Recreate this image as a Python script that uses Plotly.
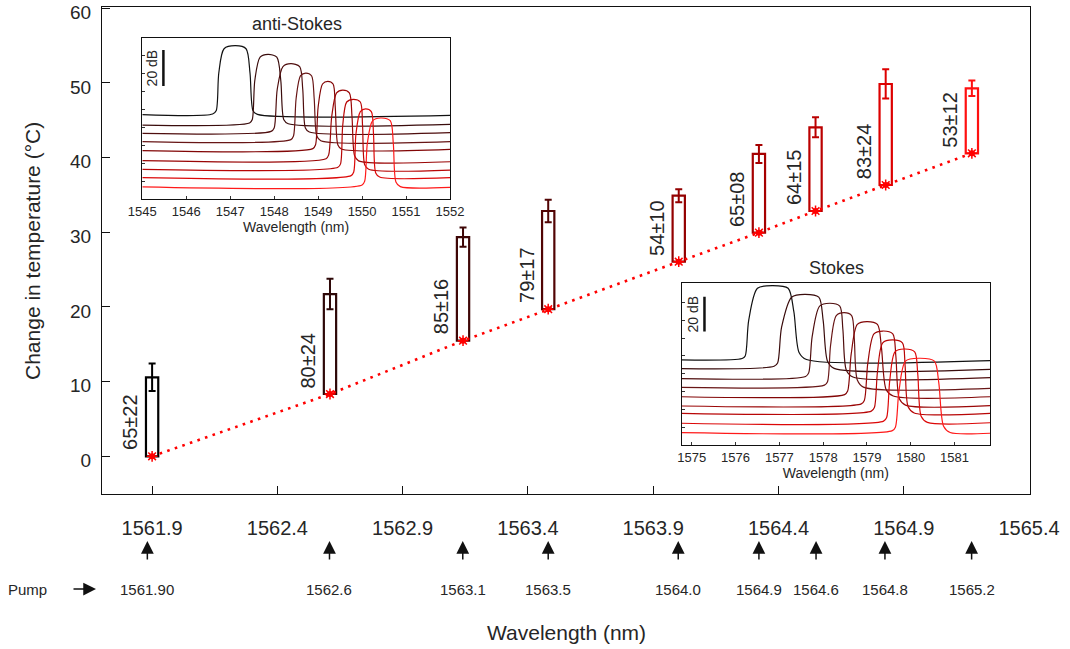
import plotly.graph_objects as go

# ---------------- data ----------------
bar_x = [1561.900, 1562.610, 1563.141, 1563.481, 1564.002, 1564.322, 1564.548, 1564.828, 1565.172]
bar_bottom = [0.0, 8.34, 15.48, 19.70, 26.06, 29.95, 32.85, 36.33, 40.58]
bar_top = [10.58, 21.73, 29.35, 32.85, 34.90, 40.49, 44.06, 49.86, 49.28]
bar_err = [1.85, 2.05, 1.30, 1.50, 0.87, 1.20, 1.34, 1.96, 1.03]
bar_labels = ["65±22", "80±24", "85±16", "79±17", "54±10", "65±08", "64±15", "83±24", "53±12"]

x_tickvals = [1561.9, 1562.4, 1562.9, 1563.4, 1563.9, 1564.4, 1564.9, 1565.4]
x_ticktext = ["1561.9", "1562.4", "1562.9", "1563.4", "1563.9", "1564.4", "1564.9", "1565.4"]
y_tickvals = [0, 10, 20, 30, 40, 50, 60]

pump_x = [1561.881, 1562.608, 1563.140, 1563.481, 1564.000, 1564.322, 1564.550, 1564.825, 1565.171]
pump_labels = ["1561.90", "1562.6", "1563.1", "1563.5", "1564.0", "1564.9", "1564.6", "1564.8", "1565.2"]

# anti-Stokes spectra (wavelength nm, relative level dB)
as_x = [
    [1545.0, 1546.60, 1546.68, 1546.74, 1546.86, 1547.12, 1547.36, 1547.45, 1547.52, 1547.62, 1552.0],
    [1545.0, 1547.44, 1547.50, 1547.56, 1547.68, 1547.86, 1548.06, 1548.15, 1548.22, 1548.32, 1552.0],
    [1545.0, 1547.93, 1548.00, 1548.07, 1548.20, 1548.38, 1548.58, 1548.65, 1548.71, 1548.80, 1552.0],
    [1545.0, 1548.38, 1548.44, 1548.50, 1548.60, 1548.72, 1548.85, 1548.91, 1548.97, 1549.06, 1552.0],
    [1545.0, 1548.88, 1548.94, 1549.00, 1549.10, 1549.22, 1549.34, 1549.39, 1549.45, 1549.53, 1552.0],
    [1545.0, 1549.18, 1549.24, 1549.31, 1549.42, 1549.56, 1549.71, 1549.77, 1549.83, 1549.92, 1552.0],
    [1545.0, 1549.45, 1549.51, 1549.56, 1549.65, 1549.80, 1549.96, 1550.01, 1550.06, 1550.15, 1552.0],
    [1545.0, 1549.75, 1549.81, 1549.86, 1549.96, 1550.08, 1550.21, 1550.26, 1550.31, 1550.40, 1552.0],
    [1545.0, 1550.00, 1550.06, 1550.12, 1550.24, 1550.42, 1550.64, 1550.71, 1550.77, 1550.87, 1552.0],
]
as_y = [
    [46.9, 47.2, 49.0, 70.0, 83.5, 85.2, 83.5, 70.0, 49.0, 47.0, 46.5],
    [41.1, 42.2, 44.0, 66.0, 78.8, 80.4, 78.8, 66.0, 44.0, 41.8, 41.5],
    [36.5, 37.6, 39.5, 61.0, 73.6, 75.2, 73.6, 61.0, 39.5, 37.2, 36.9],
    [31.9, 33.0, 35.0, 56.0, 68.5, 70.0, 68.5, 56.0, 35.0, 32.4, 31.9],
    [26.9, 28.0, 30.0, 51.0, 63.9, 65.4, 63.9, 51.0, 30.0, 27.8, 27.6],
    [21.3, 22.4, 24.5, 46.0, 59.0, 60.5, 59.0, 46.0, 24.0, 21.2, 20.7],
    [16.5, 17.6, 19.5, 41.0, 53.9, 55.4, 53.9, 41.0, 19.0, 16.5, 16.1],
    [11.9, 13.0, 15.0, 36.0, 48.6, 50.1, 48.6, 36.0, 14.5, 12.2, 11.9],
    [6.7, 7.8, 10.0, 31.0, 43.5, 45.0, 43.5, 31.0, 9.5, 6.9, 6.5],
]

# Stokes spectra
st_x = [
    [1574.77, 1576.15, 1576.22, 1576.30, 1576.50, 1576.85, 1577.20, 1577.33, 1577.45, 1577.62, 1581.81],
    [1574.77, 1576.88, 1576.96, 1577.05, 1577.28, 1577.58, 1577.90, 1578.00, 1578.10, 1578.25, 1581.81],
    [1574.77, 1577.60, 1577.67, 1577.75, 1577.92, 1578.15, 1578.38, 1578.45, 1578.53, 1578.68, 1581.81],
    [1574.77, 1578.03, 1578.10, 1578.17, 1578.30, 1578.48, 1578.65, 1578.71, 1578.78, 1578.92, 1581.81],
    [1574.77, 1578.49, 1578.56, 1578.64, 1578.78, 1579.00, 1579.24, 1579.33, 1579.44, 1579.60, 1581.81],
    [1574.77, 1578.87, 1578.94, 1579.02, 1579.16, 1579.36, 1579.59, 1579.66, 1579.74, 1579.88, 1581.81],
    [1574.77, 1579.10, 1579.17, 1579.24, 1579.36, 1579.58, 1579.81, 1579.87, 1579.94, 1580.08, 1581.81],
    [1574.77, 1579.38, 1579.45, 1579.52, 1579.64, 1579.85, 1580.09, 1580.16, 1580.24, 1580.38, 1581.81],
    [1574.77, 1579.58, 1579.65, 1579.73, 1579.88, 1580.18, 1580.54, 1580.64, 1580.75, 1580.90, 1581.81],
]
st_y = [
    [47.8, 48.6, 50.0, 70.0, 88.0, 89.5, 88.0, 75.0, 52.0, 48.0, 47.4],
    [42.9, 44.2, 46.0, 66.0, 83.0, 84.6, 83.0, 70.0, 47.0, 43.0, 42.5],
    [37.3, 38.5, 40.5, 61.0, 78.0, 79.6, 78.0, 65.0, 42.0, 38.2, 37.8],
    [32.4, 33.6, 35.5, 56.0, 72.7, 74.3, 72.7, 60.0, 36.5, 32.5, 31.8],
    [27.1, 28.3, 30.3, 51.0, 67.7, 69.3, 67.7, 55.0, 31.0, 27.5, 27.1],
    [21.9, 23.1, 25.0, 46.0, 62.4, 64.0, 62.4, 50.0, 26.0, 22.4, 22.1],
    [17.8, 19.0, 21.0, 41.0, 57.4, 59.0, 57.4, 45.0, 21.5, 18.0, 17.8],
    [12.2, 13.4, 15.4, 36.0, 52.3, 53.9, 52.3, 40.0, 16.0, 12.7, 12.5],
    [6.9, 8.1, 10.0, 30.0, 47.1, 48.7, 47.1, 35.0, 10.5, 7.0, 6.6],
]

as_ticks = [1545, 1546, 1547, 1548, 1549, 1550, 1551, 1552]
st_ticks = [1575, 1576, 1577, 1578, 1579, 1580, 1581]

# ---------------- styles ----------------
FONT = "Liberation Sans, Arial, sans-serif"
TXT = "#262626"
bar_colors = ["#000000", "#2e0808", "#3e0606", "#520404", "#930000", "#a60000", "#bb0000", "#dd0000", "#ff1010"]
spec_colors = ["#111111", "#3a0c0c", "#4f0e0e", "#681616", "#820606", "#9a0606", "#b80606", "#dc0808", "#ff1a1a"]

fig = go.Figure()

fig.add_trace(go.Bar(
    x=bar_x, y=[t - b for t, b in zip(bar_top, bar_bottom)], base=bar_bottom,
    width=0.049, marker=dict(color="white", line=dict(color=bar_colors, width=2.2)),
    showlegend=False, hoverinfo="skip", xaxis="x", yaxis="y"))

fig.add_trace(go.Scatter(
    x=bar_x, y=bar_bottom, mode="lines", line=dict(color="#ff0000", width=2.6, dash="2.6px,5.4px"),
    showlegend=False, hoverinfo="skip"))
fig.add_trace(go.Scatter(
    x=bar_x, y=bar_bottom, mode="markers",
    marker=dict(symbol="circle", size=6, color="#ff0000"), showlegend=False, hoverinfo="skip"))
fig.add_trace(go.Scatter(
    x=bar_x, y=bar_bottom, mode="markers",
    marker=dict(symbol="asterisk-open", size=9, color="#ff0000", line=dict(color="#ff0000", width=1.5)),
    showlegend=False, hoverinfo="skip"))

for i in range(len(bar_x)):
    fig.add_trace(go.Scatter(
        x=[bar_x[i]], y=[bar_top[i]], mode="markers", marker=dict(size=1, opacity=0),
        error_y=dict(type="data", array=[bar_err[i]], color=bar_colors[i], thickness=2, width=3.5),
        showlegend=False, hoverinfo="skip"))

for i in range(len(as_x)):
    fig.add_trace(go.Scatter(x=as_x[i], y=as_y[i], mode="lines", xaxis="x2", yaxis="y2",
                             line=dict(color=spec_colors[i], width=1.2, shape="spline", smoothing=0.8),
                             showlegend=False, hoverinfo="skip"))
for i in range(len(st_x)):
    fig.add_trace(go.Scatter(x=st_x[i], y=st_y[i], mode="lines", xaxis="x3", yaxis="y3",
                             line=dict(color=spec_colors[i], width=1.2, shape="spline", smoothing=0.8),
                             showlegend=False, hoverinfo="skip"))

W, H = 1070, 649
def px(x):
    return x / W
def py(y):
    return 1 - y / H

def text_note(x, y, text, size, xref="paper", angle=0):
    return dict(x=x, y=y, xref=xref, yref="paper", text=text, textangle=angle, showarrow=False,
                xanchor="center", yanchor="middle", font=dict(size=size, color=TXT, family=FONT))

annotations = []
for i in range(len(bar_x)):
    annotations.append(dict(x=bar_x[i], y=bar_bottom[i], xref="x", yref="y", text=bar_labels[i],
                            textangle=-90, showarrow=False, xanchor="center", yanchor="bottom",
                            xshift=-22, yshift=4, font=dict(size=20, color=TXT, family=FONT)))
for i in range(len(pump_x)):
    annotations.append(dict(x=pump_x[i], y=py(541), xref="x", yref="paper", text="",
                            showarrow=True, arrowhead=2, arrowsize=1.7, arrowwidth=1.5,
                            arrowcolor="#111111", ax=0, ay=20))
    annotations.append(text_note(pump_x[i], py(589), pump_labels[i], 15, xref="x"))
annotations.append(text_note(px(27), py(589), "Pump", 15))
annotations.append(dict(x=px(96), y=py(589), xref="paper", yref="paper", text="",
                        showarrow=True, arrowhead=2, arrowsize=1.7, arrowwidth=1.5,
                        arrowcolor="#111111", ax=-24, ay=0))
annotations.append(text_note(px(566), py(632), "Wavelength (nm)", 21))
annotations.append(text_note(px(32), py(251), "Change in temperature (°C)", 21, angle=-90))
annotations.append(text_note(px(297), py(24), "anti-Stokes", 18))
annotations.append(text_note(px(836), py(268), "Stokes", 18))
annotations.append(dict(x=1545.48, y=72.8, xref="x2", yref="y2", text="20 dB", textangle=-90,
                        showarrow=False, xanchor="right", yanchor="middle", xshift=-1,
                        font=dict(size=14, color=TXT, family=FONT)))
annotations.append(dict(x=1575.29, y=73.5, xref="x3", yref="y3", text="20 dB", textangle=-90,
                        showarrow=False, xanchor="right", yanchor="middle", xshift=-1,
                        font=dict(size=14, color=TXT, family=FONT)))

shapes = [
    dict(type="line", xref="x2", yref="y2", x0=1545.48, x1=1545.48, y0=62.8, y1=82.8,
         line=dict(color="#111111", width=2.5)),
    dict(type="line", xref="x3", yref="y3", x0=1575.29, x1=1575.29, y0=63.7, y1=83.3,
         line=dict(color="#111111", width=2.5)),
]

main_ax = dict(showline=True, mirror=True, linecolor="#111111", linewidth=1.3, showgrid=False,
               zeroline=False, ticks="inside", ticklen=8, tickcolor="#111111", tickwidth=1,
               automargin=False, ticklabeloverflow="allow")
inset_ax = dict(showline=True, mirror=True, linecolor="#111111", linewidth=1.2, showgrid=False,
                zeroline=False, ticks="inside", ticklen=3, tickcolor="#333333", tickwidth=1,
                automargin=False)

fig.update_layout(
    width=W, height=H, margin=dict(l=0, r=0, t=0, b=0, pad=0, autoexpand=False),
    paper_bgcolor="white", plot_bgcolor="white", showlegend=False, barmode="overlay",
    font=dict(family=FONT, color=TXT),
    xaxis=dict(**main_ax, domain=[px(102), px(1030)], range=[1561.70, 1565.404],
               tickvals=x_tickvals, ticktext=x_ticktext, ticklabelstandoff=16,
               tickfont=dict(size=20, color=TXT, family=FONT)),
    yaxis=dict(**main_ax, domain=[py(494), py(7)], range=[-5.05, 60.17],
               tickvals=y_tickvals, ticklabelstandoff=6, ticklabelshift=4,
               tickfont=dict(size=19, color=TXT, family=FONT)),
    xaxis2=dict(**inset_ax, domain=[px(142.3), px(450)], range=[1545, 1552], anchor="y2",
                tickvals=as_ticks, tickfont=dict(size=13, color=TXT, family=FONT),
                title=dict(text="Wavelength (nm)", font=dict(size=14, color=TXT, family=FONT), standoff=2)),
    yaxis2=dict(**inset_ax, domain=[py(199), py(38.3)], range=[0, 89.3], anchor="x2",
                tickvals=[10, 20, 30, 40, 50, 60, 70, 80], showticklabels=False),
    xaxis3=dict(**inset_ax, domain=[px(681.7), px(990)], range=[1574.77, 1581.81], anchor="y3",
                tickvals=st_ticks, tickfont=dict(size=13, color=TXT, family=FONT),
                title=dict(text="Wavelength (nm)", font=dict(size=14, color=TXT, family=FONT), standoff=2)),
    yaxis3=dict(**inset_ax, domain=[py(445), py(283.3)], range=[0, 90.8], anchor="x3",
                tickvals=[10, 20, 30, 40, 50, 60, 70, 80], showticklabels=False),
    annotations=annotations, shapes=shapes,
)

fig.write_html("out.html", config={"displayModeBar": False},
               post_script="document.body.style.margin='0px';")
